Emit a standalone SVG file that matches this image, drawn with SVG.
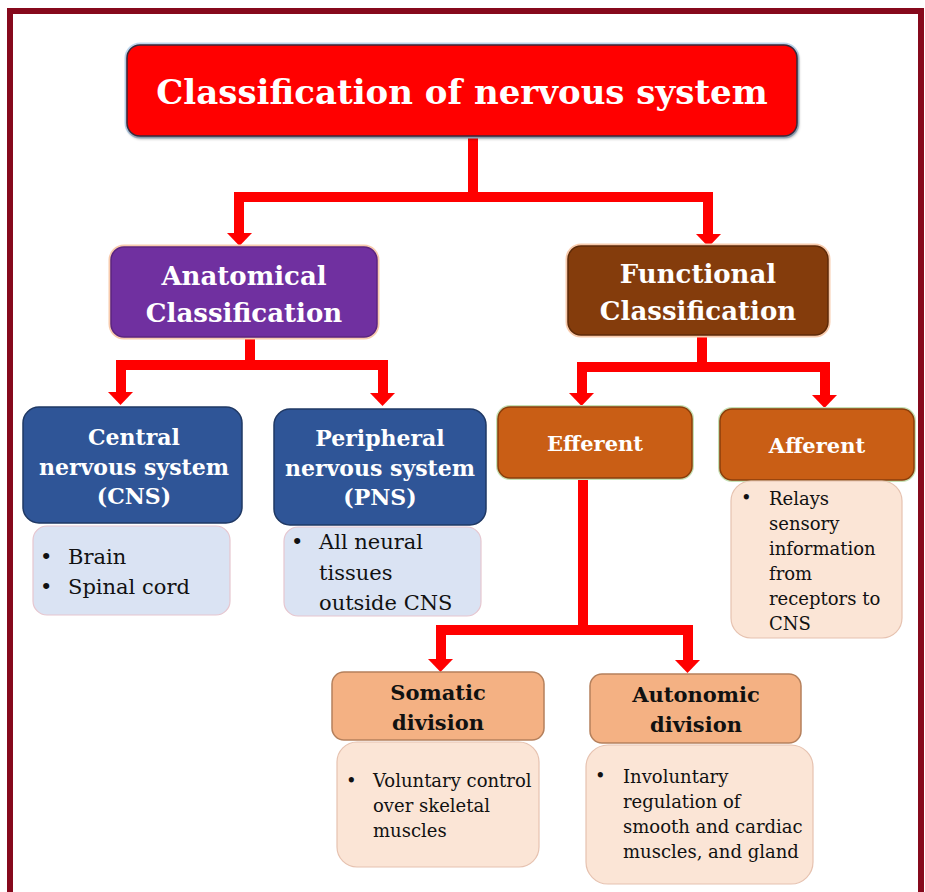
<svg xmlns="http://www.w3.org/2000/svg" width="925" height="892" viewBox="0 0 925 892">
<style>
.h{font-family:"DejaVu Serif","Liberation Serif",serif;font-weight:bold;fill:#fff;text-anchor:middle}
.hb{font-family:"DejaVu Serif","Liberation Serif",serif;font-weight:bold;fill:#111;text-anchor:middle}
.b{font-family:"DejaVu Serif","Liberation Serif",serif;fill:#111}
.conn{fill:none;stroke:#FF0000;stroke-width:10;stroke-linejoin:miter;stroke-linecap:butt}
</style>
<defs>
<filter id="sh" x="-10%" y="-10%" width="120%" height="130%"><feDropShadow dx="1" dy="2" stdDeviation="1.5" flood-color="#000" flood-opacity="0.35"/></filter>
</defs>
<rect x="0" y="0" width="925" height="892" fill="#fff"/>
<path d="M10,892 V11 H921 V892" fill="none" stroke="#86091C" stroke-width="6"/>

<g id="connectors">
<path class="conn" d="M473,137 V197 H708 V234"/>
<path class="conn" d="M473,197 H239 V233"/>
<path class="conn" d="M250,337 V365 H383 V393"/>
<path class="conn" d="M250,365 H121 V392"/>
<path class="conn" d="M702,335 V367 H825 V395"/>
<path class="conn" d="M702,367 H582 V393"/>
<path class="conn" d="M583,478 V630 H688 V660"/>
<path class="conn" d="M583,630 H441 V659"/>
<g fill="#FF0000">
<path d="M696,234 L721,234 L708.5,247 Z"/>
<path d="M227,233 L252,233 L239.5,246 Z"/>
<path d="M108,392 L133,392 L120.5,405 Z"/>
<path d="M370,393 L395,393 L382.5,406 Z"/>
<path d="M569,393 L594,393 L581.5,406 Z"/>
<path d="M812,395 L837,395 L824.5,408 Z"/>
<path d="M428,659 L453,659 L440.5,672 Z"/>
<path d="M675,660 L700,660 L687.5,673 Z"/>
</g>
</g>

<g id="title">
<rect x="127" y="45" width="670" height="91" rx="13" fill="none" stroke="#BDD7EE" stroke-width="5"/>
<rect x="127" y="45" width="670" height="91" rx="13" fill="#FF0000" stroke="#3B2A3A" stroke-width="1.5" filter="url(#sh)"/>
<text class="h" x="462" y="104" font-size="34">Classification of nervous system</text>
</g>

<g id="anatomical">
<rect x="111" y="247" width="266" height="90" rx="13" fill="none" stroke="#F8CBAD" stroke-width="5"/>
<rect x="111" y="247" width="266" height="90" rx="13" fill="#7030A0" stroke="#5B2580" stroke-width="1.5"/>
<text class="h" x="244" y="285" font-size="26">Anatomical</text>
<text class="h" x="244" y="322" font-size="26">Classification</text>
</g>

<g id="functional">
<rect x="568" y="246" width="260" height="89" rx="13" fill="none" stroke="#F8CBAD" stroke-width="5"/>
<rect x="568" y="246" width="260" height="89" rx="13" fill="#843C0C" stroke="#5E2A08" stroke-width="1.5"/>
<text class="h" x="698" y="283" font-size="26">Functional</text>
<text class="h" x="698" y="320" font-size="26">Classification</text>
</g>

<g id="cns">
<rect x="23" y="407" width="219" height="116" rx="16" fill="#2F5597" stroke="#1F3864" stroke-width="1.5"/>
<text class="h" x="134" y="445" font-size="22">Central</text>
<text class="h" x="134" y="475" font-size="22">nervous system</text>
<text class="h" x="134" y="504" font-size="22">(CNS)</text>
</g>
<g id="cns-detail">
<rect x="33" y="526" width="197" height="89" rx="14" fill="#DAE3F3" stroke="#E6C6CF" stroke-width="1.2"/>
<text class="b" x="40" y="564" font-size="21">•</text>
<text class="b" x="68" y="564" font-size="21">Brain</text>
<text class="b" x="40" y="594" font-size="21">•</text>
<text class="b" x="68" y="594" font-size="21">Spinal cord</text>
</g>

<g id="pns">
<rect x="274" y="409" width="212" height="116" rx="16" fill="#2F5597" stroke="#1F3864" stroke-width="1.5"/>
<text class="h" x="380" y="446" font-size="22">Peripheral</text>
<text class="h" x="380" y="476" font-size="22">nervous system</text>
<text class="h" x="380" y="505" font-size="22">(PNS)</text>
</g>
<g id="pns-detail">
<rect x="284" y="527" width="197" height="89" rx="14" fill="#DAE3F3" stroke="#E6C6CF" stroke-width="1.2"/>
<text class="b" x="291" y="549" font-size="21">•</text>
<text class="b" x="319" y="549" font-size="21">All neural</text>
<text class="b" x="319" y="580" font-size="21">tissues</text>
<text class="b" x="319" y="610" font-size="21">outside CNS</text>
</g>

<g id="efferent">
<rect x="498" y="407" width="194" height="71" rx="12" fill="none" stroke="#C5E0B4" stroke-width="4"/>
<rect x="498" y="407" width="194" height="71" rx="12" fill="#C95E15" stroke="#8A3E0B" stroke-width="1.5"/>
<text class="h" x="595" y="451" font-size="21">Efferent</text>
</g>

<g id="afferent">
<rect x="720" y="409" width="194" height="71" rx="12" fill="none" stroke="#C5E0B4" stroke-width="4"/>
<rect x="720" y="409" width="194" height="71" rx="12" fill="#C95E15" stroke="#8A3E0B" stroke-width="1.5"/>
<text class="h" x="817" y="453" font-size="21">Afferent</text>
</g>
<g id="afferent-detail">
<rect x="731" y="481" width="171" height="157" rx="20" fill="#FBE5D6" stroke="#E6C2B0" stroke-width="1.2"/>
<text class="b" x="741" y="504" font-size="18">•</text>
<text class="b" x="769" y="505" font-size="18">Relays</text>
<text class="b" x="769" y="530" font-size="18">sensory</text>
<text class="b" x="769" y="555" font-size="18">information</text>
<text class="b" x="769" y="580" font-size="18">from</text>
<text class="b" x="769" y="605" font-size="18">receptors to</text>
<text class="b" x="769" y="630" font-size="18">CNS</text>
</g>

<g id="somatic">
<rect x="332" y="672" width="212" height="68" rx="12" fill="#F4B183" stroke="#B5805C" stroke-width="1.5"/>
<text class="hb" x="438" y="700" font-size="21">Somatic</text>
<text class="hb" x="438" y="730" font-size="21">division</text>
</g>
<g id="somatic-detail">
<rect x="337" y="742" width="202" height="125" rx="20" fill="#FBE5D6" stroke="#E6C2B0" stroke-width="1.2"/>
<text class="b" x="346" y="787" font-size="18">•</text>
<text class="b" x="373" y="787" font-size="18">Voluntary control</text>
<text class="b" x="373" y="812" font-size="18">over skeletal</text>
<text class="b" x="373" y="837" font-size="18">muscles</text>
</g>

<g id="autonomic">
<rect x="590" y="674" width="211" height="69" rx="12" fill="#F4B183" stroke="#B5805C" stroke-width="1.5"/>
<text class="hb" x="696" y="702" font-size="21">Autonomic</text>
<text class="hb" x="696" y="732" font-size="21">division</text>
</g>
<g id="autonomic-detail">
<rect x="586" y="745" width="227" height="139" rx="22" fill="#FBE5D6" stroke="#E6C2B0" stroke-width="1.2"/>
<text class="b" x="595" y="782" font-size="18">•</text>
<text class="b" x="623" y="783" font-size="18">Involuntary</text>
<text class="b" x="623" y="808" font-size="18">regulation of</text>
<text class="b" x="623" y="833" font-size="18">smooth and cardiac</text>
<text class="b" x="623" y="858" font-size="18">muscles, and gland</text>
</g>
</svg>
